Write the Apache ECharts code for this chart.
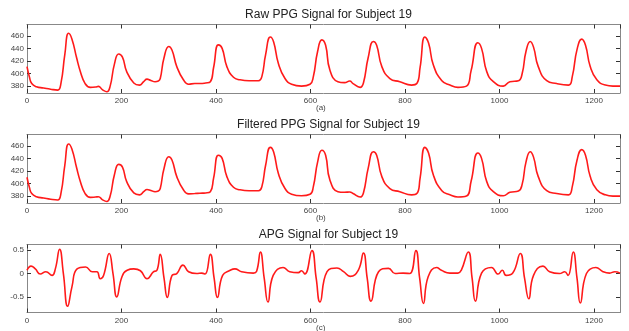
<!DOCTYPE html>
<html lang="en">
<head>
    <meta charset="UTF-8">
    <title>PPG Subject 19</title>
    <style>
        html, body { margin: 0; padding: 0; background: #fff; }
        #chart { width: 629px; height: 331px; }
    </style>
    <script src="https://cdn.jsdelivr.net/npm/echarts@6/dist/echarts.min.js"></script>
</head>
<body>
<div id="chart"></div>
<script>
// 数据：采样点序号与幅值
var ppgX = [0, 5, 10, 20, 35, 50, 65, 72, 80, 88, 95, 105, 113, 123, 134, 145, 151, 160, 169, 176,
    185, 194, 202, 211, 226, 238, 247, 254, 262, 271, 278, 282, 290, 300, 307, 317, 331, 342, 355, 366,
    378, 388, 395, 405, 413, 423, 437, 451, 470, 490, 497, 505, 515, 522, 532, 546, 560, 581, 599, 606,
    615, 624, 632, 641, 658, 672, 683, 690, 705, 712, 722, 733, 740, 751, 768, 789, 814, 825, 832, 842,
    850, 860, 878, 895, 912, 930, 940, 954, 962, 973, 987, 1008, 1022, 1040, 1048, 1056, 1065, 1072, 1082, 1100,
    1121, 1146, 1154, 1164, 1174, 1182, 1192, 1206, 1224, 1240, 1255];
var rawY = [411, 395, 384, 379, 377, 375, 373.6, 385, 430, 464, 455, 425, 403, 384, 378, 378.5, 379.5, 374, 371, 380,
    415, 431, 426, 403, 385, 381.6, 387, 391, 389, 387, 388, 392, 425, 443, 437, 411, 390, 383, 384, 384,
    385, 387, 410, 445.6, 440, 411, 394, 390, 388.5, 388.5, 395, 430, 458, 450, 416, 392, 383, 380, 383, 395,
    435, 453.6, 445, 405.6, 387, 385.5, 388, 384, 378, 385, 425, 451, 445, 411, 392, 387, 381.6, 384, 410, 458,
    448, 413.6, 388.5, 381.6, 378, 380, 405, 449, 440, 403, 387, 380, 387, 388.5, 400, 435, 451, 442, 411, 388.5,
    384, 381.6, 395, 438, 454.7, 445, 411, 390, 381.6, 380, 380];
var filtY = [410, 394, 384, 379, 377, 375, 373.8, 385, 429, 463, 455, 425, 403, 384, 378, 378.5, 379, 374, 371.5, 380,
    414, 430.5, 426, 403, 385, 382, 387, 390.5, 389, 387, 388, 392, 424, 442.5, 437, 411, 390, 383.5, 384, 384.5,
    385, 387, 409, 445, 440, 411, 394, 390, 388.5, 388.5, 395, 429, 457.5, 450, 416, 392, 383, 380.5, 383, 395,
    434, 453, 445, 405.6, 387, 386, 386.5, 384, 378.5, 385, 424, 450.5, 445, 411, 392, 387, 382, 384, 409, 457.5,
    448, 413.6, 388.5, 382, 378.5, 380, 404, 448.5, 440, 403, 387, 380.5, 386, 388, 399, 434, 450.5, 442, 411, 388.5,
    384, 382, 395, 437, 454, 445, 411, 390, 382, 380, 380];

var apgX = [0, 8.5, 17.6, 28, 40, 53, 60, 69, 77, 86, 95, 106, 124, 138, 148, 155, 162, 174, 182, 190,
    201, 212, 226, 240, 254, 268, 275, 282, 290, 297, 307, 317, 330, 342, 359, 370, 377, 388, 396, 403,
    414, 430, 440, 454, 479, 486, 494, 502, 510, 521, 542, 556, 574, 581, 588, 603, 612, 620, 635, 656,
    670, 684, 701, 712, 720, 728, 744, 765, 779, 796, 810, 823, 831, 839, 849, 867, 877, 895, 912, 919,
    934, 942, 949, 962, 983, 997, 1006, 1014, 1028, 1044, 1053, 1062, 1072, 1092, 1106, 1127, 1138, 1145, 1156, 1164,
    1171, 1184, 1204, 1219, 1233, 1244, 1255];
var apgY = [0.07, 0.16, 0.1, -0.01, 0.04, -0.04, 0.1, 0.52, 0.0, -0.7, -0.29, 0.1, 0.14, 0.04, 0.04, -0.11, -0.04, 0.43, 0.0, -0.5,
    -0.07, 0.07, 0.1, 0.06, -0.11, 0.04, 0.07, 0.41, -0.1, -0.51, -0.04, 0.0, 0.18, 0.04, 0.0, 0.01, -0.01, 0.41, -0.1, -0.51,
    -0.04, 0.07, 0.1, 0.04, 0.01, 0.05, 0.46, -0.1, -0.61, -0.04, 0.13, 0.04, 0.02, 0.06, -0.01, 0.49, -0.1, -0.61, 0.04, 0.12,
    0.04, -0.06, 0.07, 0.44, -0.1, -0.59, 0.04, 0.11, 0.0, 0.01, 0.0, 0.49, -0.1, -0.64, -0.07, 0.13, 0.07, 0.01, 0.01, 0.07,
    0.46, -0.1, -0.59, 0.01, 0.13, -0.01, 0.07, -0.04, 0.01, 0.43, -0.1, -0.54, -0.04, 0.16, 0.04, 0.0, 0.04, -0.04, 0.46, -0.1,
    -0.63, 0.0, 0.13, 0.04, 0.01, 0.04, 0.01];

var titles = ["Raw PPG Signal for Subject 19", "Filtered PPG Signal for Subject 19", "APG Signal for Subject 19"];
var subLabels = ["(a)", "(b)", "(c)"];
var ppgTicks = [380, 400, 420, 440, 460];
var apgTicks = [-0.5, 0, 0.5];

function pairs(xs, ys) {
    var out = [];
    for (var i = 0; i < xs.length; i++) out.push([xs[i], ys[i]]);
    return out;
}

var chart = echarts.init(document.getElementById("chart"));

var gridTops = [24.5, 134.5, 244.5];
var gridH = [68.5, 68.5, 68];
var yRanges = [[369, 478], [369, 478], [-0.834, 0.622]];
var yTickSets = [ppgTicks, ppgTicks, apgTicks];

var grids = [], xAxes = [], yAxes = [], series = [], titleArr = [], graphics = [];
var lineColor = "#888";
var labelStyle = { color: "#444", fontSize: 8, fontFamily: "Liberation Sans, Arial" };
var tickStyle = { color: "#333" };

for (var k = 0; k < 3; k++) {
    grids.push({ left: 27, right: 9, top: gridTops[k], height: gridH[k] });
    titleArr.push({
        text: titles[k], left: 323.5, textAlign: "center", top: gridTops[k] - 21,
        textStyle: { fontSize: 12, fontWeight: "normal", color: "#222", fontFamily: "Liberation Sans, Arial" }
    });
    graphics.push({
        type: "text", left: 316, top: gridTops[k] + gridH[k] + 11,
        style: { text: subLabels[k], fontSize: 8, fill: "#444", fontFamily: "Liberation Sans, Arial" }
    });
    // 下方与上方 x 轴
    xAxes.push({
        gridIndex: k, type: "value", min: 0, max: 1255, interval: 200, position: "bottom",
        axisLine: { onZero: false, lineStyle: { color: lineColor } },
        axisTick: { inside: true, length: 4, lineStyle: tickStyle },
        axisLabel: Object.assign({ margin: 4, showMaxLabel: false, formatter: function (v) { return String(v); } }, labelStyle),
        splitLine: { show: false }
    });
    xAxes.push({
        gridIndex: k, type: "value", min: 0, max: 1255, interval: 200, position: "top",
        axisLine: { onZero: false, lineStyle: { color: lineColor } },
        axisTick: { inside: true, length: 4, lineStyle: tickStyle },
        axisLabel: { show: false }, splitLine: { show: false }
    });
    // y 轴刻度用 customValues，长度取负值使刻度朝内
    yAxes.push({
        gridIndex: k, type: "value", min: yRanges[k][0], max: yRanges[k][1], position: "left",
        axisLine: { show: true, onZero: false, lineStyle: { color: lineColor } },
        axisTick: { show: true, inside: false, length: -4, lineStyle: tickStyle, customValues: yTickSets[k] },
        axisLabel: Object.assign({ margin: 3, customValues: yTickSets[k] }, labelStyle),
        splitLine: { show: false }
    });
    yAxes.push({
        gridIndex: k, type: "value", min: yRanges[k][0], max: yRanges[k][1], position: "right",
        axisLine: { show: true, onZero: false, lineStyle: { color: lineColor } },
        axisTick: { show: true, inside: false, length: -4, lineStyle: tickStyle, customValues: yTickSets[k] },
        axisLabel: { show: false }, splitLine: { show: false }
    });
}

var dataSets = [pairs(ppgX, rawY), pairs(ppgX, filtY), pairs(apgX, apgY)];
for (var s = 0; s < 3; s++) {
    series.push({
        type: "line", xAxisIndex: s * 2, yAxisIndex: s * 2, data: dataSets[s],
        smooth: 0.5, symbol: "none",
        lineStyle: { color: "#ff1a1a", width: 1.6 }
    });
}

var option = {
    animation: false,
    backgroundColor: "#fff",
    title: titleArr,
    grid: grids,
    xAxis: xAxes,
    yAxis: yAxes,
    series: series,
    graphic: graphics
};
chart.setOption(option);
</script>
</body>
</html>
